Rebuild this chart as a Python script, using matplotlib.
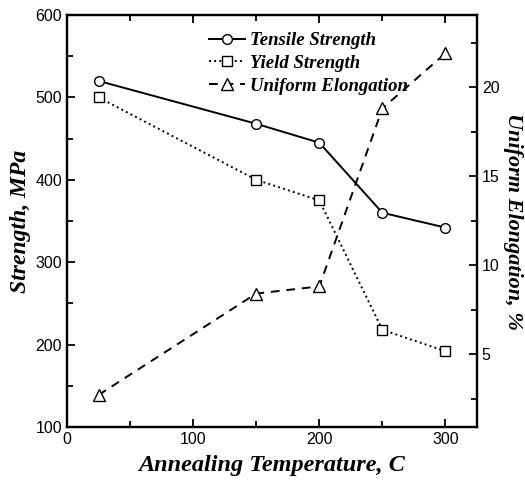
import matplotlib
matplotlib.use("Agg")
import matplotlib.pyplot as plt
from matplotlib.ticker import MultipleLocator

# data
temperature=[25, 150, 200, 250, 300]
tensile_strength=[520, 468, 445, 360, 342]
yield_strength=[500, 400, 375, 218, 192]
uniform_elongation=[2.7, 8.4, 8.8, 18.8, 21.9]

serif=["Liberation Serif", "DejaVu Serif"]
plt.rcParams["font.family"]=["Liberation Sans", "DejaVu Sans"]

fig=plt.figure(figsize=(5.25, 4.9), dpi=100)
ax=fig.add_axes([67/525, 1-427/490, 410/525, 412/490])
ax2=ax.twinx()

mk=dict(marker="o", markersize=7, markerfacecolor="white", markeredgecolor="black", markeredgewidth=1.0, color="black")
l1,=ax.plot(temperature, tensile_strength, linestyle="-", linewidth=1.4, label="Tensile Strength", **mk)
mk["marker"]="s"; mk["markersize"]=6.5
l2,=ax.plot(temperature, yield_strength, linestyle=":", linewidth=1.4, label="Yield Strength", **mk)
mk["marker"]="^"; mk["markersize"]=8
l3,=ax2.plot(temperature, uniform_elongation, linestyle="--", linewidth=1.4, dashes=(4.5, 3.5), label="Uniform Elongation", **mk)

ax.set_xlim(0, 325)
ax.set_ylim(100, 600)
ax2.set_ylim(0.9, 24.05)

ax.xaxis.set_major_locator(MultipleLocator(100))
ax.xaxis.set_minor_locator(MultipleLocator(50))
ax.yaxis.set_major_locator(MultipleLocator(100))
ax.yaxis.set_minor_locator(MultipleLocator(50))
ax2.yaxis.set_major_locator(MultipleLocator(5))
ax2.yaxis.set_minor_locator(MultipleLocator(2.5))

ax.tick_params(which="both", direction="in", top=True, labelsize=11.5, width=1.3)
ax.tick_params(which="major", length=6)
ax.tick_params(which="minor", length=4)
ax2.tick_params(which="both", direction="in", labelsize=11.5, width=1.3)
ax2.tick_params(which="major", length=6)
ax2.tick_params(which="minor", length=4)
for a in (ax, ax2):
    for s in a.spines.values():
        s.set_linewidth(1.6)

ax.set_xlabel("Annealing Temperature, C", family=serif, fontsize=17.5, fontweight="bold", fontstyle="italic", labelpad=6)
ax.set_ylabel("Strength, MPa", family=serif, fontsize=17, fontweight="bold", fontstyle="italic", labelpad=3)
ax2.set_ylabel("Uniform Elongation, %", family=serif, fontsize=16, fontweight="bold", fontstyle="italic", rotation=270,
               va="center", ha="center")
ax2.yaxis.set_label_coords((513-67)/410, 0.5)

leg=ax.legend(handles=[l1, l2, l3], loc="upper left", bbox_to_anchor=((209-67)/410, 1-(32-15)/412), frameon=False,
              prop=dict(family=serif, size=13.5, weight="bold", style="italic"),
              handlelength=1.9, handletextpad=0.3, labelspacing=0.3, borderpad=0, borderaxespad=0)

fig.savefig("out.png", dpi=100)
